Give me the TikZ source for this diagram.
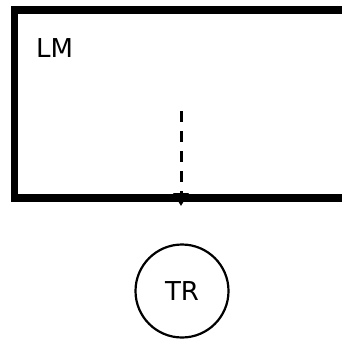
\documentclass[tikz,border=0pt]{standalone}
\usepackage{fontspec}
\setmainfont{DejaVu Sans}
\usepackage{tikz}
\usetikzlibrary{arrows.meta}

\begin{document}
\begin{tikzpicture}[x=1pt,y=-1pt,>={Triangle[length=13pt,width=15pt]},
	lbl/.style={font=\fontsize{26}{30}\selectfont, inner sep=0pt}]
		\useasboundingbox (0,0) rectangle (342,341);
		
		\draw[line width=7.5pt] (360,10) -- (14.5,10) -- (14.5,198) -- (360,198);
		\node[lbl, anchor=base west] (lm) at (36,57) {LM};
		
		\node[draw, circle, line width=2.2pt, minimum size=93pt, lbl] (tr) at (182,291) {TR};
		
		\coordinate (top) at (181,111);
		\coordinate (bot) at (181,206);
		\draw[->, line width=3pt, dash pattern=on 11pt off 9pt] (top) -- (bot);
		
	\end{tikzpicture}
\end{document}
